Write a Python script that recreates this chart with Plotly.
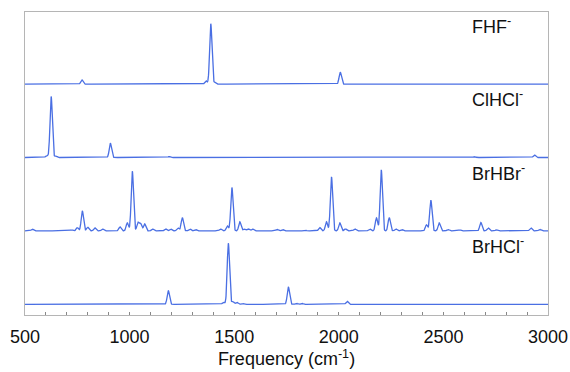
import numpy as np
import plotly.graph_objects as go

# Peak positions (cm^-1) and relative intensities
fhf_pos = [772, 1365, 1388, 1408, 2007, 2625]
fhf_int = [0.059, 0.045, 0.823, 0.027, 0.164, 0.008]

clhcl_pos = [604, 625, 648, 908, 1190, 2648, 2935]
clhcl_int = [0.027, 0.832, 0.020, 0.196, 0.014, 0.011, 0.034]

brhbr_pos = [535, 723, 750, 774, 800, 834, 871, 954, 989, 1013, 1040, 1053, 1072,
             1110, 1172, 1196, 1231, 1252, 1288, 1315, 1435, 1467, 1489, 1527, 1548,
             1567, 1588, 1705, 1731, 1838, 1909, 1941, 1965, 2005, 2032, 2077, 2148,
             2180, 2203, 2241, 2273, 2301, 2419, 2440, 2480, 2522, 2578, 2679, 2714,
             2754, 2918, 2961]
brhbr_int = [0.023, 0.014, 0.045, 0.273, 0.050, 0.041, 0.027, 0.055, 0.109, 0.814, 0.113,
             0.095, 0.095, 0.027, 0.027, 0.027, 0.041, 0.181, 0.027, 0.020, 0.027, 0.068,
             0.591, 0.123, 0.027, 0.027, 0.027, 0.020, 0.020, 0.014, 0.045, 0.123, 0.737,
             0.109, 0.027, 0.027, 0.027, 0.177, 0.832, 0.181, 0.027, 0.020, 0.082, 0.419,
             0.109, 0.020, 0.014, 0.113, 0.041, 0.014, 0.041, 0.020]

brhcl_pos = [1185, 1244, 1449, 1472, 1493, 1513, 1541, 1759, 1797, 1823, 2040, 2431, 2718]
brhcl_int = [0.187, 0.010, 0.027, 0.832, 0.041, 0.027, 0.014, 0.236, 0.014, 0.014, 0.041,
             0.010, 0.010]

names = ["FHF<sup>-</sup>", "ClHCl<sup>-</sup>", "BrHBr<sup>-</sup>", "BrHCl<sup>-</sup>"]
offsets = [3, 2, 1, 0]
x_ticks = [500, 1000, 1500, 2000, 2500, 3000]

SIGMA = 5.5
freq = np.arange(500, 3000.5, 1.0)


def spectrum(pos, inten):
    y = np.zeros_like(freq)
    for p, a in zip(pos, inten):
        y += a * np.exp(-0.5 * ((freq - p) / SIGMA) ** 2)
    return y


series = [(fhf_pos, fhf_int), (clhcl_pos, clhcl_int), (brhbr_pos, brhbr_int), (brhcl_pos, brhcl_int)]

fig = go.Figure()
for (pos, inten), off in zip(series, offsets):
    fig.add_trace(go.Scatter(x=freq, y=spectrum(pos, inten) + off, mode="lines",
                             line=dict(color="#4a6fe3", width=1.3), showlegend=False,
                             hoverinfo="skip"))

for name, off in zip(names, offsets):
    fig.add_annotation(x=2626, y=off + 0.80, xref="x", yref="y", text=name,
                       showarrow=False, xanchor="left", yanchor="middle",
                       font=dict(family="Liberation Sans, Arial, sans-serif", size=18, color="#111111"))

axis_line = "#b5b5b5"
fig.update_layout(
    width=570, height=372,
    margin=dict(l=25, r=22, t=12, b=57),
    paper_bgcolor="white", plot_bgcolor="white",
    font=dict(family="Liberation Sans, Arial, sans-serif", size=18, color="#111111"),
    xaxis=dict(range=[500, 3000], tickvals=x_ticks, ticks="inside", ticklen=3,
               tickcolor="#888888", tickwidth=1, automargin=False,
               ticklabelstandoff=5,
               minor=dict(dtick=100, ticks="inside", ticklen=3, tickcolor="#888888"),
               showline=True, linecolor=axis_line, linewidth=1, mirror=True,
               showgrid=False, zeroline=False,
               tickfont=dict(size=18, color="#111111"),
               title=dict(text="Frequency (cm<sup>-1</sup>)", font=dict(size=18, color="#111111"),
                          standoff=2)),
    yaxis=dict(range=[-0.146, 3.983], showticklabels=False, ticks="", automargin=False,
               showline=True, linecolor=axis_line, linewidth=1, mirror=True,
               showgrid=False, zeroline=False),
)

fig.write_html("out.html")
